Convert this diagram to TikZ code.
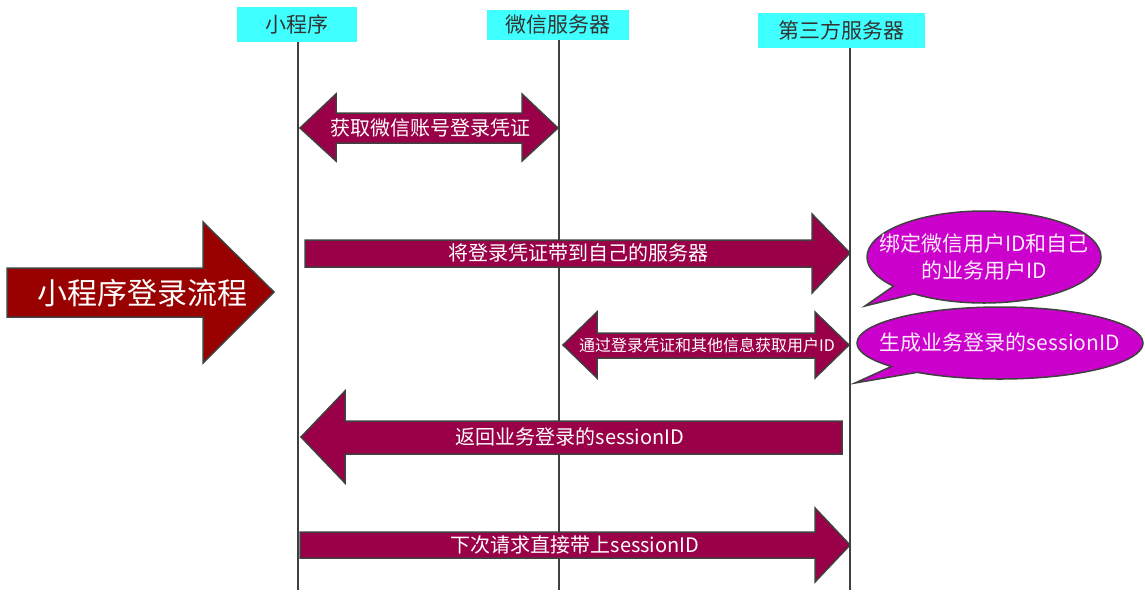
\documentclass[tikz,border=0pt]{standalone}
\usepackage{fontspec}
\setmainfont{Noto Sans CJK SC}
\usetikzlibrary{shapes.callouts}
\definecolor{hdrc}{RGB}{64,255,255}
\definecolor{arrc}{RGB}{153,0,71}
\definecolor{bigc}{RGB}{153,0,0}
\definecolor{bubc}{RGB}{204,0,204}
\definecolor{edgec}{RGB}{64,64,64}
\definecolor{txtc}{RGB}{51,51,51}
\begin{document}
\begin{tikzpicture}[x=1pt,y=-1pt,
  hdr/.style={fill=hdrc, text=txtc, inner sep=0pt, font=\fontsize{21}{24}\selectfont},
  life/.style={draw=edgec, line width=1.6pt},
  blockarrow/.style={fill=arrc, draw=edgec, line width=1.5pt, line join=miter},
  bigarrow/.style={fill=bigc, draw=edgec, line width=1.5pt, line join=miter},
  lbl/.style={text=white, inner sep=0pt},
  bubble/.style={ellipse callout, fill=bubc, draw=edgec, line width=1.5pt, inner sep=0pt, callout pointer arc=14},
  bubtxt/.style={text=white!92!bubc, inner sep=0pt, align=center, font=\fontsize{21}{27}\selectfont}]
\useasboundingbox (0,0) rectangle (1145,595);

% headers
\node[hdr, minimum width=120pt, minimum height=35pt] (h1) at (297,24.5) {小程序};
\node[hdr, minimum width=142pt, minimum height=30pt] (h2) at (558,25) {微信服务器};
\node[hdr, minimum width=167pt, minimum height=35pt] (h3) at (841.5,30.5) {第三方服务器};

% lifelines
\coordinate (e1) at (298,590);
\coordinate (e2) at (559,590);
\coordinate (e3) at (850,590);
\draw[life] (h1.south -| e1) -- (e1);
\draw[life] (h2.south -| e2) -- (e2);
\draw[life] (h3.south -| e3) -- (e3);

% big title arrow
\filldraw[bigarrow] (7,268) -- (203,268) -- (203,222) -- (274,292) -- (203,363) -- (203,317) -- (7,317) -- cycle;
\node[lbl, font=\fontsize{30}{34}\selectfont] (title) at (142,293) {小程序登录流程};

% arrow 1 (double)
\filldraw[blockarrow] (300,128) -- (336,94) -- (336,113) -- (522,113) -- (522,94) -- (558,128) -- (522,161) -- (522,143) -- (336,143) -- (336,161) -- cycle;
\node[lbl, font=\fontsize{20}{22}\selectfont] (m1) at (430,128) {获取微信账号登录凭证};

% arrow 2 (right)
\filldraw[blockarrow] (305,240) -- (812,240) -- (812,214) -- (850,253) -- (812,293) -- (812,267) -- (305,267) -- cycle;
\node[lbl, font=\fontsize{20}{22}\selectfont] (m2) at (578,253) {将登录凭证带到自己的服务器};

% arrow 3 (double)
\filldraw[blockarrow] (563,345) -- (597,312) -- (597,333) -- (815,333) -- (815,312) -- (849,345) -- (815,378) -- (815,358) -- (597,358) -- (597,378) -- cycle;
\node[lbl, font=\fontsize{16}{18}\selectfont] (m3) at (707,345) {通过登录凭证和其他信息获取用户ID};

% arrow 4 (left)
\filldraw[blockarrow] (301,437) -- (345,391) -- (345,421) -- (842,421) -- (842,454) -- (345,454) -- (345,483) -- cycle;
\node[lbl, font=\fontsize{20}{22}\selectfont] (m4) at (570,437) {返回业务登录的sessionID};

% arrow 5 (right)
\filldraw[blockarrow] (300,532) -- (815,532) -- (815,508) -- (850,545) -- (815,582) -- (815,558) -- (300,558) -- cycle;
\node[lbl, font=\fontsize{20}{22}\selectfont] (m5) at (575,545) {下次请求直接带上sessionID};

% callouts
\node[bubble, minimum width=234pt, minimum height=92pt, callout absolute pointer={(865,306)}] (c1) at (984,257) {};
\node[bubtxt] (t1) at (c1.center) {绑定微信用户ID和自己\\的业务用户ID};
\node[bubble, minimum width=286pt, minimum height=72pt, callout absolute pointer={(855,383)}] (c2) at (1000,343) {};
\node[bubtxt] (t2) at (c2.center) {生成业务登录的sessionID};
\end{tikzpicture}
\end{document}
